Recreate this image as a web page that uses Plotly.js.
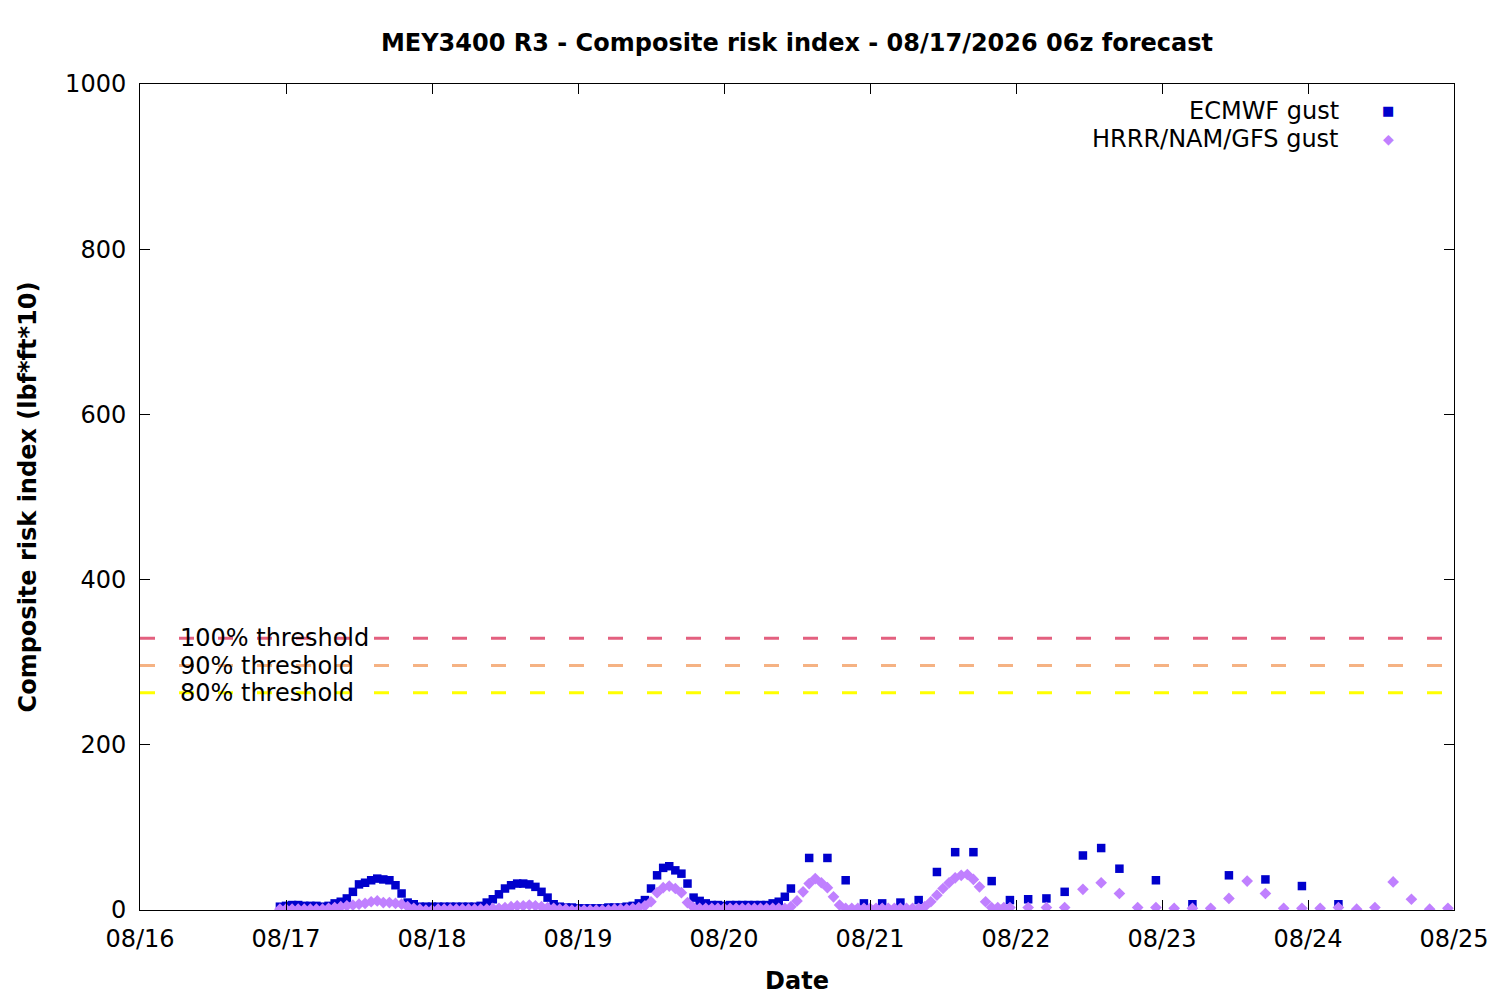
<!DOCTYPE html>
<html>
<head>
<meta charset="utf-8">
<script src="https://cdn.plot.ly/plotly-3.0.1.min.js"></script>
<style>
    html, body { margin: 0; padding: 0; background: #ffffff; }
    #chart { width: 1500px; height: 1000px; }
</style>
</head>
<body>
<div id="chart"></div>
<script>
// ECMWF gust: hourly, then 3-hourly, then 6-hourly steps (local time)
const ecmwfHourlyStart = "2026-08-16 23:00";
const ecmwfHourly = [
    4, 5, 6, 6, 5, 5, 5, 4, 5,
    8, 10, 14, 22, 31, 33, 36, 38, 37, 36, 30, 20, 9, 7, 4,
    4, 4, 4, 4, 4, 4, 4, 4, 4,
    5, 9, 13, 19, 26, 30, 32, 32, 31, 28, 22, 15, 7, 4,
    3, 3, 2, 2, 2, 2, 2, 3, 3, 3,
    4, 5, 8, 12, 26, 42, 51, 53, 48, 44, 32, 15, 11, 8, 6,
    6, 5, 6, 6, 6, 6, 6, 6,
    6, 8, 10, 16, 26
];
const ecmwf3hStart = "2026-08-20 14:00";
const ecmwf3h = [63, 63, 36, 8, 8, 9, 12, 46, 70, 70, 35, 12, 13, 14, 22, 66, 75, 50];
const ecmwf6hStart = "2026-08-22 23:00";
const ecmwf6h = [36, 7, 42, 37, 29, 7];

// HRRR/NAM/GFS gust: hourly, then 3-hourly
const hrrrHourlyStart = "2026-08-16 23:00";
const hrrrHourly = [
    1, 1, 1, 1, 1, 1, 1, 1, 2,
    3, 4, 5, 6, 7, 8, 10, 11, 9, 9, 8, 7, 4, 2,
    1, 0, 0, 1, 1, 1, 1, 1, 1, 1, 1, 1, 2,
    2, 3, 4, 5, 5, 6, 5, 4, 3, 2,
    1, 1, 0, 0, 0, 0, 0, 0, 0, 1, 1, 1, 2,
    3, 5, 10, 21, 27, 29, 26, 21, 9, 3, 2,
    2, 2, 2, 2, 2, 2, 2, 2, 2, 2, 2, 2, 2, 2,
    4, 11, 22, 32, 38, 33, 27, 16, 6, 2,
    2, 2, 2, 2, 2, 2, 2, 2, 2, 2, 2, 2,
    4, 10, 18, 26, 33, 39, 42, 43, 37, 28, 10, 3, 3, 3, 3
];
const hrrr3hStart = "2026-08-22 02:00";
const hrrr3h = [3, 3, 3, 25, 33, 20, 3, 3, 2, 2, 2, 14, 35, 20, 2, 2, 2, 3, 1, 3, 34, 13, 1, 2];

// thresholds
const thresholdNames = ["100% threshold", "90% threshold", "80% threshold"];
const thresholdValues = [329, 296, 263];
const thresholdColors = ["#e3607f", "#f5b283", "#ffff00"];

const seriesNames = ["ECMWF gust", "HRRR/NAM/GFS gust"];
const seriesColors = ["#0000cc", "#c080ff"];

const fontFamily = "DejaVu Sans, Verdana, sans-serif";
const fontSize = 24;

function stepTimes(start, stepHours, count) {
    /**
     * Returns count timestamps from start, stepHours apart.
     */
    let parts = start.split(/[- :]/).map(Number);
    let t0 = Date.UTC(parts[0], parts[1] - 1, parts[2], parts[3], parts[4]);
    let out = [];
    for (let i = 0; i < count; i++) {
        let d = new Date(t0 + i * stepHours * 3600000);
        let pad = n => String(n).padStart(2, "0");
        out.push(d.getUTCFullYear() + "-" + pad(d.getUTCMonth() + 1) + "-" + pad(d.getUTCDate()) +
            " " + pad(d.getUTCHours()) + ":00");
    }
    return out;
}

let ecmwfX = stepTimes(ecmwfHourlyStart, 1, ecmwfHourly.length)
    .concat(stepTimes(ecmwf3hStart, 3, ecmwf3h.length))
    .concat(stepTimes(ecmwf6hStart, 6, ecmwf6h.length));
let ecmwfY = ecmwfHourly.concat(ecmwf3h).concat(ecmwf6h);

let hrrrX = stepTimes(hrrrHourlyStart, 1, hrrrHourly.length)
    .concat(stepTimes(hrrr3hStart, 3, hrrr3h.length));
let hrrrY = hrrrHourly.concat(hrrr3h);

let data = [
    {
        x: ecmwfX,
        y: ecmwfY,
        type: "scatter",
        mode: "markers",
        name: seriesNames[0],
        hoverinfo: "skip",
        marker: {symbol: "square", size: 8.5, color: seriesColors[0]}
    },
    {
        x: hrrrX,
        y: hrrrY,
        type: "scatter",
        mode: "markers",
        name: seriesNames[1],
        hoverinfo: "skip",
        marker: {symbol: "diamond", size: 9, color: seriesColors[1]}
    }
];

// dashed threshold lines with their labels
let shapes = [];
let annotations = [];
for (let i = 0; i < thresholdValues.length; i++) {
    shapes.push({
        type: "line",
        xref: "paper",
        yref: "y",
        x0: 0,
        x1: 1,
        y0: thresholdValues[i],
        y1: thresholdValues[i],
        layer: "above",
        line: {color: thresholdColors[i], width: 3, dash: "15px,24px"}
    });
    annotations.push({
        xref: "paper",
        yref: "y",
        x: 0.0289,
        y: thresholdValues[i],
        xanchor: "left",
        yanchor: "middle",
        text: thresholdNames[i],
        showarrow: false,
        font: {family: fontFamily, size: fontSize, color: "#000000"}
    });
}

// legend drawn gnuplot-style: text right-aligned, key to the right
let legendRows = [0.9676, 0.9337];
let legendSymbols = ["\u25A0", "\u25C6"];
for (let i = 0; i < seriesNames.length; i++) {
    annotations.push({
        xref: "paper",
        yref: "paper",
        x: 0.9143,
        y: legendRows[i],
        xanchor: "right",
        yanchor: "middle",
        text: seriesNames[i],
        showarrow: false,
        font: {family: fontFamily, size: fontSize, color: "#000000"}
    });
    annotations.push({
        xref: "paper",
        yref: "paper",
        x: 0.9498,
        y: legendRows[i],
        xanchor: "center",
        yanchor: "middle",
        text: legendSymbols[i],
        showarrow: false,
        font: {family: fontFamily, size: i === 0 ? 13 : 14, color: seriesColors[i]}
    });
}

let axisCommon = {
    showgrid: false,
    zeroline: false,
    showline: true,
    linecolor: "#000000",
    linewidth: 1,
    mirror: "allticks",
    ticks: "inside",
    ticklen: 10,
    tickwidth: 1,
    tickcolor: "#000000",
    tickfont: {family: fontFamily, size: fontSize, color: "#000000"},
    fixedrange: true
};

let layout = {
    width: 1500,
    height: 1000,
    paper_bgcolor: "#ffffff",
    plot_bgcolor: "#ffffff",
    showlegend: false,
    margin: {l: 140, r: 46, t: 84, b: 90},
    title: {
        text: "<b>MEY3400 R3 - Composite risk index - 08/17/2026 06z forecast</b>",
        font: {family: fontFamily, size: fontSize, color: "#000000"},
        xref: "paper",
        x: 0.5,
        xanchor: "center",
        yref: "container",
        y: 0.957,
        yanchor: "middle"
    },
    xaxis: Object.assign({}, axisCommon, {
        type: "date",
        range: ["2026-08-16 00:00", "2026-08-25 00:00"],
        tick0: "2026-08-16",
        dtick: 86400000,
        tickformat: "%m/%d",
        ticklabelstandoff: 7,
        title: {
            text: "<b>Date</b>",
            font: {family: fontFamily, size: fontSize, color: "#000000"},
            standoff: 20
        }
    }),
    yaxis: Object.assign({}, axisCommon, {
        range: [0, 1000],
        tick0: 0,
        dtick: 200,
        ticklabelstandoff: 8,
        title: {
            text: "<b>Composite risk index (lbf*ft*10)</b>",
            font: {family: fontFamily, size: fontSize, color: "#000000"},
            standoff: 21
        }
    }),
    shapes: shapes,
    annotations: annotations
};

let config = {
    displayModeBar: false,
    staticPlot: true
};

Plotly.newPlot(document.getElementById("chart"), data, layout, config);
</script>
</body>
</html>
